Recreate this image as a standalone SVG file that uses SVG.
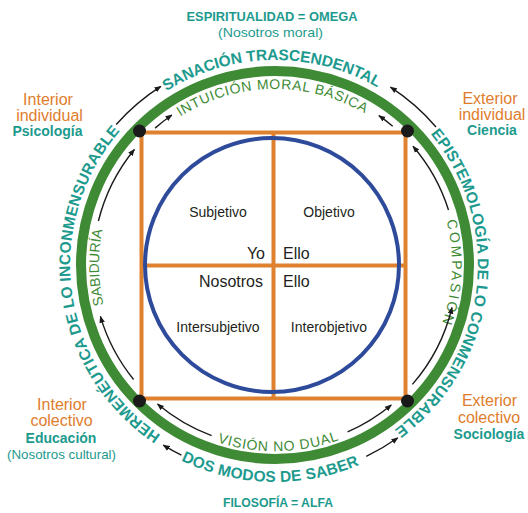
<svg xmlns="http://www.w3.org/2000/svg" width="528" height="513" viewBox="0 0 528 513">
<defs>
<style>
text{font-family:"Liberation Sans",Arial,Helvetica,sans-serif}
.tb{font-weight:bold;fill:#1D9A8E;font-size:13px}
.tr{fill:#1D9A8E}
.or{fill:#E07D2C;font-size:16px}
.cb{font-weight:bold;fill:#1D9A8E;font-size:14px}
.q{fill:#231F20;font-size:14px}
.q2{fill:#231F20;font-size:16px}
.outer{font-weight:bold;fill:#1D9A8E;font-size:15.5px}
.inner{fill:#3E8A35;font-size:14px}
.ln{fill:none;stroke:#DF8230;stroke-width:4}
.arr{fill:none;stroke:#1A1A1A;stroke-width:1.4;marker-end:url(#ah)}
.dot{fill:#1A1A1A}
</style>
<marker id="ah" viewBox="0 0 10 10" refX="9" refY="5" markerWidth="7" markerHeight="7" markerUnits="userSpaceOnUse" orient="auto">
<path d="M0,1 L10,5 L0,9 z" fill="#1A1A1A"/>
</marker>
<path id="pSan" d="M70.03,268.58 A205,205 0 0 1 479.97,261.42"/>
<path id="pHer" d="M302.12,468.2 A205,205 0 0 1 247.88,61.8"/>
<path id="pEpi" d="M299.98,61.54 A205,205 0 0 1 250.02,468.46"/>
<path id="pDos" d="M58.06,259.70 A217,217 0 0 0 491.94,270.30"/>
<path id="pInt" d="M98.03,268.09 A177,177 0 0 1 451.97,261.91"/>
<path id="pCom" d="M282.10,88.14 A177,177 0 0 1 267.90,441.86"/>
<path id="pSab" d="M277.47,441.98 A177,177 0 0 1 272.53,88.02"/>
<path id="pVis" d="M88.03,268.26 A187,187 0 0 0 461.97,261.74"/>
</defs>
<rect width="528" height="513" fill="#FFFFFF"/>

<g id="ring">
<circle cx="275" cy="265" r="194" fill="none" stroke="#3E8A35" stroke-width="10"/>
</g>

<g id="square">
<rect class="ln" x="141.5" y="132.5" width="264" height="266"/>
<line class="ln" x1="273.5" y1="132.5" x2="273.5" y2="398.5"/>
<line class="ln" x1="141.5" y1="265.5" x2="405.5" y2="265.5"/>
</g>

<g id="circle">
<circle cx="272" cy="265" r="127" fill="none" stroke="#2E4B9B" stroke-width="4"/>
</g>

<g id="dots">
<circle class="dot" cx="139.5" cy="131" r="6.5"/>
<circle class="dot" cx="407.5" cy="131" r="6.5"/>
<circle class="dot" cx="139.5" cy="401" r="6.5"/>
<circle class="dot" cx="407.5" cy="401" r="6.5"/>
</g>

<g id="q-subjetivo">
<text class="q" x="218" y="217" text-anchor="middle">Subjetivo</text>
<text class="q2" x="265" y="258.5" text-anchor="end">Yo</text>
</g>
<g id="q-objetivo">
<text class="q" x="329" y="217" text-anchor="middle">Objetivo</text>
<text class="q2" x="283" y="258.5">Ello</text>
</g>
<g id="q-intersubjetivo">
<text class="q2" x="263" y="286.5" text-anchor="end">Nosotros</text>
<text class="q" x="218" y="331.5" text-anchor="middle">Intersubjetivo</text>
</g>
<g id="q-interobjetivo">
<text class="q2" x="283" y="286.5">Ello</text>
<text class="q" x="329" y="331.5" text-anchor="middle">Interobjetivo</text>
</g>

<g id="top-label">
<text class="tb" x="272" y="20.7" text-anchor="middle" textLength="171" lengthAdjust="spacingAndGlyphs">ESPIRITUALIDAD = OMEGA</text>
<text class="tr" x="270.5" y="36.5" text-anchor="middle" font-size="13.5" textLength="105" lengthAdjust="spacingAndGlyphs">(Nosotros moral)</text>
</g>
<g id="bottom-label">
<text class="tb" x="278" y="506.5" text-anchor="middle" textLength="110" lengthAdjust="spacingAndGlyphs">FILOSOFÍA = ALFA</text>
</g>

<g id="ul-label">
<text class="or" x="48" y="105" text-anchor="middle">Interior</text>
<text class="or" x="49.5" y="120.5" text-anchor="middle">individual</text>
<text class="cb" x="47.5" y="135.5" text-anchor="middle">Psicología</text>
</g>
<g id="ur-label">
<text class="or" x="490" y="104" text-anchor="middle">Exterior</text>
<text class="or" x="492" y="120" text-anchor="middle">individual</text>
<text class="cb" x="492" y="135" text-anchor="middle">Ciencia</text>
</g>
<g id="ll-label">
<text class="or" x="62" y="410" text-anchor="middle">Interior</text>
<text class="or" x="61.5" y="426" text-anchor="middle">colectivo</text>
<text class="cb" x="61" y="443" text-anchor="middle">Educación</text>
<text class="tr" x="61.5" y="459" text-anchor="middle" font-size="13" textLength="109" lengthAdjust="spacingAndGlyphs">(Nosotros cultural)</text>
</g>
<g id="lr-label">
<text class="or" x="489.5" y="406" text-anchor="middle">Exterior</text>
<text class="or" x="489" y="422.5" text-anchor="middle">colectivo</text>
<text class="cb" x="489" y="439" text-anchor="middle">Sociología</text>
</g>

<g id="outer-labels">
<text class="outer"><textPath href="#pSan" startOffset="50%" text-anchor="middle" textLength="222" lengthAdjust="spacing">SANACIÓN TRASCENDENTAL</textPath></text>
<text class="outer"><textPath href="#pHer" startOffset="50%" text-anchor="middle" textLength="347" lengthAdjust="spacing">HERMENÉUTICA DE LO INCONMENSURABLE</textPath></text>
<text class="outer"><textPath href="#pEpi" startOffset="50%" text-anchor="middle" textLength="334" lengthAdjust="spacing">EPISTEMOLOGÍA DE LO CONMENSURABLE</textPath></text>
<text class="outer"><textPath href="#pDos" startOffset="50%" text-anchor="middle" textLength="184" lengthAdjust="spacing">DOS MODOS DE SABER</textPath></text>
</g>

<g id="inner-labels">
<text class="inner"><textPath href="#pInt" startOffset="50%" text-anchor="middle" textLength="194" lengthAdjust="spacing">INTUICIÓN MORAL BÁSICA</textPath></text>
<text class="inner"><textPath href="#pCom" startOffset="50%" text-anchor="middle" textLength="104" lengthAdjust="spacing">COMPASIÓN</textPath></text>
<text class="inner"><textPath href="#pSab" startOffset="50%" text-anchor="middle" textLength="76" lengthAdjust="spacing">SABIDURÍA</textPath></text>
<text class="inner"><textPath href="#pVis" startOffset="50%" text-anchor="middle" textLength="124" lengthAdjust="spacing">VISIÓN NO DUAL</textPath></text>
</g>

<g id="connectors">
<path class="arr" d="M133.6,379.5 A182,182 0 0 1 100.4,316.4"/>
<path class="arr" d="M98.4,221.0 A182,182 0 0 1 134.4,149.5"/>
<path class="arr" d="M155.1,128.1 A182,182 0 0 1 171.9,115.0"/>
<path class="arr" d="M392.7,126.2 A182,182 0 0 0 378.9,115.6"/>
<path class="arr" d="M448.5,210.0 A182,182 0 0 0 413.0,146.3"/>
<path class="arr" d="M412.4,384.4 A182,182 0 0 0 452.0,307.5"/>
<path class="arr" d="M347.6,431.9 A182,182 0 0 0 391.3,405.0"/>
<path class="arr" d="M211.6,435.6 A182,182 0 0 1 157.5,404.0"/>
<path class="arr" d="M116.2,124.5 A212,212 0 0 1 160.8,86.4"/>
<path class="arr" d="M436.0,127.0 A212,212 0 0 0 390.5,87.2"/>
<path class="arr" d="M181.4,455.2 A212,212 0 0 1 163.3,445.2"/>
<path class="arr" d="M366.3,456.4 A212,212 0 0 0 397.8,437.8"/>
</g>
</svg>
